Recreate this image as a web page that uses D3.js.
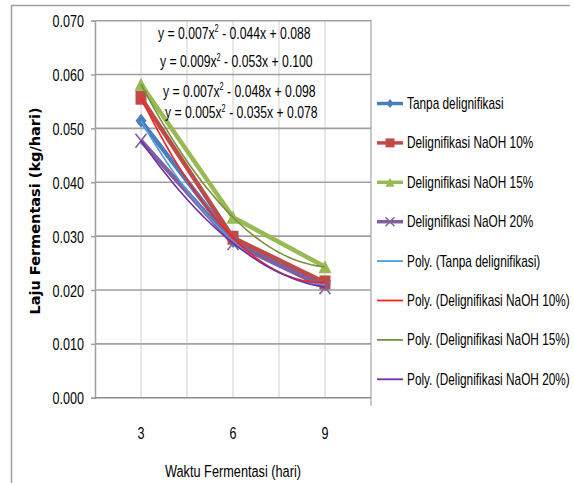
<!DOCTYPE html>
<html lang="id">
<head>
    <meta charset="UTF-8">
    <title>Laju Fermentasi</title>
    <script src="https://d3js.org/d3.v7.min.js"></script>
    <style>
        body { margin: 0; background: #fff; }
        svg text { font-family: "Liberation Sans", Arial, sans-serif; fill: #000; }
        svg text.ytitle { font-family: "DejaVu Sans", "Liberation Sans", sans-serif; font-weight: bold; }
    </style>
</head>
<body>
    <div id="chart-container"></div>
    <script>
        // data (kg/hari)
        const days = [3, 6, 9];
        const seriesNames = ["Tanpa delignifikasi", "Delignifikasi NaOH 10%", "Delignifikasi NaOH 15%", "Delignifikasi NaOH 20%"];
        const tanpa = [0.0514, 0.0291, 0.0210];
        const naoh10 = [0.0557, 0.0297, 0.0214];
        const naoh15 = [0.0582, 0.0335, 0.0243];
        const naoh20 = [0.0477, 0.0287, 0.0205];
        const yTicks = [0, 0.01, 0.02, 0.03, 0.04, 0.05, 0.06, 0.07];
        const equations = [
            ["y = 0.007x", " - 0.044x + 0.088"],
            ["y = 0.009x", " - 0.053x + 0.100"],
            ["y = 0.007x", " - 0.048x + 0.098"],
            ["y = 0.005x", " - 0.035x + 0.078"]
        ];

        const lineColors = ["#4a7ebb", "#be4b48", "#98b954", "#7d60a0"];
        const trendColors = ["#4f9be0", "#ff2020", "#76923c", "#7030a0"];
        const markers = ["diamond", "square", "triangle", "cross"];
        const values = [tanpa, naoh10, naoh15, naoh20];

        const W = 574, H = 483;
        const plot = { left: 95, right: 371, top: 20.7, bottom: 397.7 };
        const narrow = 0.74; // the original font is a condensed, tall one

        const svg = d3.select("#chart-container")
            .append("svg")
            .attr("width", W)
            .attr("height", H);

        // outer chart border
        svg.append("path")
            .attr("d", `M11.5,${H} V5.5 H570`)
            .attr("fill", "none")
            .attr("stroke", "#a0a0a0")
            .attr("stroke-width", 1.5);

        const x = d3.scaleBand()
            .domain(days)
            .range([plot.left, plot.right]);
        const cx = d => x(d) + x.bandwidth() / 2;

        const y = d3.scaleLinear()
            .domain([0, 0.07])
            .range([plot.bottom, plot.top]);

        // vertical gridlines (category centres and edges)
        const vLines = [];
        days.forEach((d, i) => {
            vLines.push(cx(d));
            if (i > 0) vLines.push(x(d));
        });
        svg.selectAll(".vgrid")
            .data(vLines)
            .enter()
            .append("line")
            .attr("x1", d => d).attr("x2", d => d)
            .attr("y1", plot.top).attr("y2", plot.bottom)
            .attr("stroke", "#d9d9d9")
            .attr("stroke-width", 1.2);

        // right plot edge
        svg.append("line")
            .attr("x1", plot.right).attr("x2", plot.right)
            .attr("y1", plot.top - 1).attr("y2", plot.bottom + 8)
            .attr("stroke", "#a6a6a6")
            .attr("stroke-width", 1.2);

        // y axis with horizontal gridlines
        const yAxis = svg.append("g")
            .attr("transform", `translate(${plot.left},0)`)
            .call(d3.axisLeft(y).tickValues(yTicks).tickFormat(d3.format(".3f")).tickSize(4).tickPadding(7));
        yAxis.select(".domain").attr("stroke", "#a0a0a0").attr("stroke-width", 1.5);
        yAxis.selectAll(".tick line").attr("stroke", "#a0a0a0").attr("stroke-width", 1.5);
        yAxis.selectAll(".tick text").attr("font-size", 17).attr("dy", "0.36em").attr("class", "cond");

        svg.selectAll(".hgrid")
            .data(yTicks)
            .enter()
            .append("line")
            .attr("x1", plot.left).attr("x2", plot.right)
            .attr("y1", d => y(d)).attr("y2", d => y(d))
            .attr("stroke", d => d === 0 ? "#8c8c8c" : "#a0a0a0")
            .attr("stroke-width", 1.6);

        // x tick labels
        svg.selectAll(".xlab")
            .data(days)
            .enter()
            .append("text")
            .attr("class", "cond")
            .attr("x", d => cx(d))
            .attr("y", 439)
            .attr("text-anchor", "middle")
            .attr("font-size", 17)
            .text(d => d);

        // axis titles
        svg.append("text")
            .attr("class", "cond")
            .attr("x", (plot.left + plot.right) / 2)
            .attr("y", 477)
            .attr("text-anchor", "middle")
            .attr("font-size", 17.2)
            .text("Waktu Fermentasi (hari)");

        svg.append("text")
            .attr("class", "ytitle")
            .attr("transform", "translate(40,211) rotate(-90)")
            .attr("text-anchor", "middle")
            .attr("font-size", 14.5)
            .text("Laju Fermentasi (kg/hari)");

        // marker shapes
        function markerPath(type, w, h) {
            const a = w / 2, b = h / 2;
            if (type === "diamond") return `M0,${-b} L${a},0 L0,${b} L${-a},0 Z`;
            if (type === "square") return `M${-a},${-b} H${a} V${b} H${-a} Z`;
            if (type === "triangle") return `M0,${-b} L${a},${b} H${-a} Z`;
            return `M${-a},${-b} L${a},${b} M${a},${-b} L${-a},${b}`;
        }

        // series lines
        const line = d3.line()
            .x((d, i) => cx(days[i]))
            .y(d => y(d));

        values.forEach((vals, s) => {
            svg.append("path")
                .attr("d", line(vals))
                .attr("fill", "none")
                .attr("stroke", lineColors[s])
                .attr("stroke-width", 4.5)
                .attr("stroke-linejoin", "round");
        });

        values.forEach((vals, s) => {
            svg.selectAll(".mk" + s)
                .data(vals)
                .enter()
                .append("path")
                .attr("transform", (d, i) => `translate(${cx(days[i])},${y(d)})`)
                .attr("d", markerPath(markers[s], markers[s] === "triangle" ? 13 : 11, markers[s] === "triangle" ? 13 : 14))
                .attr("fill", markers[s] === "cross" ? "none" : lineColors[s])
                .attr("stroke", lineColors[s])
                .attr("stroke-width", markers[s] === "cross" ? 1.6 : 0);
        });

        // polynomial (order 2) trendlines, fitted on category index 1..n like Excel
        function polyFit2(ys) {
            const S = [0, 0, 0, 0, 0], T = [0, 0, 0];
            ys.forEach((v, i) => {
                const t = i + 1;
                for (let k = 0; k < 5; k++) S[k] += Math.pow(t, k);
                for (let k = 0; k < 3; k++) T[k] += v * Math.pow(t, k);
            });
            const M = [[S[0], S[1], S[2], T[0]], [S[1], S[2], S[3], T[1]], [S[2], S[3], S[4], T[2]]];
            for (let i = 0; i < 3; i++) {
                for (let j = i + 1; j < 3; j++) {
                    const f = M[j][i] / M[i][i];
                    for (let k = i; k < 4; k++) M[j][k] -= f * M[i][k];
                }
            }
            const r = [0, 0, 0];
            for (let i = 2; i >= 0; i--) {
                let s = M[i][3];
                for (let k = i + 1; k < 3; k++) s -= M[i][k] * r[k];
                r[i] = s / M[i][i];
            }
            return t => r[0] + r[1] * t + r[2] * t * t;
        }

        const tScale = d3.scaleLinear().domain([1, days.length]).range([cx(days[0]), cx(days[days.length - 1])]);
        values.forEach((vals, s) => {
            const f = polyFit2(vals);
            const ts = d3.range(1, days.length + 0.001, 0.05);
            svg.append("path")
                .attr("d", d3.line().x(t => tScale(t)).y(t => y(f(t)))(ts))
                .attr("fill", "none")
                .attr("stroke", trendColors[s])
                .attr("stroke-width", 1.6);
        });

        // trendline equations
        const eqPos = [[158, 39], [160, 67.5], [163, 97], [165, 118.5]];
        equations.forEach((eq, i) => {
            const t = svg.append("text")
                .attr("class", "cond")
                .attr("x", eqPos[i][0])
                .attr("y", eqPos[i][1])
                .attr("font-size", 16.5);
            t.append("tspan").text(eq[0]);
            t.append("tspan").attr("dy", -6.5).attr("font-size", 10).text("2");
            t.append("tspan").attr("dy", 6.5).text(eq[1]);
        });

        // legend
        const legendItems = seriesNames.map((n, i) => ({ name: n, color: lineColors[i], marker: markers[i], trend: false }))
            .concat(seriesNames.map((n, i) => ({ name: "Poly. (" + n + ")", color: trendColors[i], marker: null, trend: true })));

        const legend = svg.selectAll(".legend")
            .data(legendItems)
            .enter()
            .append("g")
            .attr("transform", (d, i) => `translate(377,${103.5 + i * 39.4})`);

        legend.append("line")
            .attr("x1", 0).attr("x2", 26)
            .attr("stroke", d => d.color)
            .attr("stroke-width", d => d.trend ? 1.8 : 3.5);

        legend.filter(d => d.marker)
            .append("path")
            .attr("transform", "translate(13,0)")
            .attr("d", d => markerPath(d.marker, d.marker === "diamond" ? 7 : 9, 9))
            .attr("fill", d => d.marker === "cross" ? "none" : d.color)
            .attr("stroke", d => d.color)
            .attr("stroke-width", d => d.marker === "cross" ? 1.4 : 0);

        legend.append("text")
            .attr("class", "cond")
            .attr("x", 30)
            .attr("y", 5.5)
            .attr("font-size", 16)
            .text(d => d.name);

        // squeeze text horizontally around its own anchor point
        svg.selectAll("text.cond").each(function () {
            const el = d3.select(this);
            const tx = +el.attr("x") || 0, ty = +el.attr("y") || 0;
            el.attr("transform", `translate(${tx},${ty}) scale(${narrow},1) translate(${-tx},${-ty})`);
        });
    </script>
</body>
</html>
